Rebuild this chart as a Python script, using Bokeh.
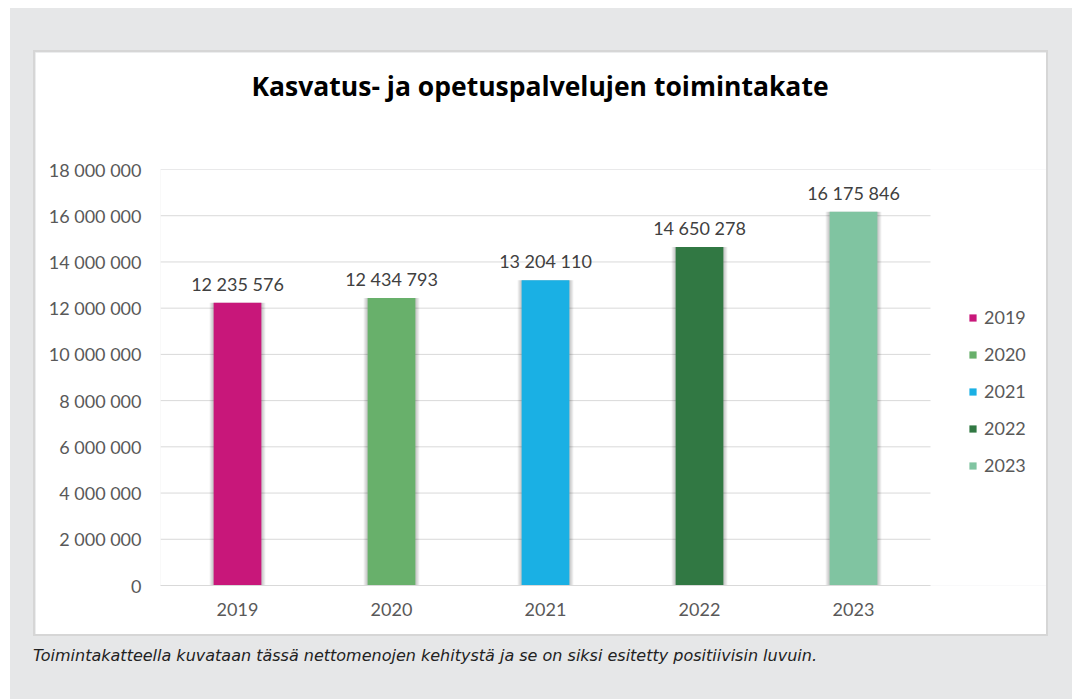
from bokeh.plotting import figure
from bokeh.models import ColumnDataSource, Range1d, FixedTicker, Legend, LegendItem, LabelSet, Div, Title
from bokeh.layouts import column
from bokeh.core.properties import value
from bokeh.embed import file_html
from bokeh.resources import INLINE

years = ["2019", "2020", "2021", "2022", "2023"]
values = [12235576, 12434793, 13204110, 14650278, 16175846]
colors = ["#c8177a", "#68b06b", "#1ab0e4", "#317843", "#80c4a1"]
y_ticks = [0, 2000000, 4000000, 6000000, 8000000, 10000000, 12000000, 14000000, 16000000, 18000000]
y_tick_labels = ["0", "2 000 000", "4 000 000", "6 000 000", "8 000 000", "10 000 000",
                 "12 000 000", "14 000 000", "16 000 000", "18 000 000"]
title_text = "Kasvatus- ja opetuspalvelujen toimintakate"
caption_text = "Toimintakatteella kuvataan tässä nettomenojen kehitystä ja se on siksi esitetty positiivisin luvuin."

n = len(years)
xpos = [i + 0.5 for i in range(n)]
labels = [f"{v:,}".replace(",", " ") for v in values]
src = ColumnDataSource(dict(x=xpos, top=values, color=colors, label=labels))

FIG_W, FIG_H = 1011, 582
LEFT, CAT_PX = 125, 770
frame_w = FIG_W - LEFT
x_end = n * frame_w / CAT_PX

p = figure(x_range=Range1d(0, x_end), y_range=Range1d(0, 18000000),
           width=FIG_W, height=FIG_H, output_backend="svg", toolbar_location=None,
           min_border_left=LEFT, min_border_right=0, min_border_top=117, min_border_bottom=49)
p.styles = {"outline": "2px solid #d6d6d6"}
p.background_fill_color = "white"
p.border_fill_color = "white"
p.outline_line_color = None

# spacer between title and plot area, then the title itself
spacer = Title(text=" ", text_font_size="1px", standoff=61, vertical_align="top")
p.add_layout(spacer, "above")
main_title = Title(text=title_text, align="left", offset=91, text_font="Open Sans",
                   text_font_size="26.5px", text_font_style="bold", text_color="#000000",
                   vertical_align="top", standoff=0)
p.add_layout(main_title, "above")

# gridlines limited to the category area
p.segment(x0=[0] * len(y_ticks[1:]), x1=[n] * len(y_ticks[1:]), y0=y_ticks[1:], y1=y_ticks[1:],
          line_color="#d9d9d9", line_width=1)

# soft shadow layers
for k in range(1, 5):
    p.vbar(x="x", top="top", width=0.31 + 0.013 * k, bottom=0, source=src,
           fill_color="#000000", fill_alpha=0.06, line_color=None)

bars = p.vbar(x="x", top="top", width=0.31, bottom=0, source=src, fill_color="color", line_color=None)

lbl = LabelSet(x="x", y="top", text="label", source=src, text_align="center", text_baseline="middle",
               y_offset=19, text_font=value("Lato"), text_font_size=value("18px"), text_color="#404040")
p.add_layout(lbl)

items = [LegendItem(label=y, renderers=[bars], index=i) for i, y in enumerate(years)]
legend = Legend(items=items, location=(808, 109), orientation="vertical")
legend.glyph_width = 9
legend.glyph_height = 9
legend.label_text_font = "Lato"
legend.label_text_font_size = "18px"
legend.label_text_color = "#595959"
legend.label_standoff = 7
legend.label_height = 20
legend.spacing = 15
legend.padding = 0
legend.margin = 0
legend.border_line_color = None
legend.background_fill_alpha = 0
p.add_layout(legend, "center")

p.yaxis.ticker = FixedTicker(ticks=y_ticks)
p.yaxis.major_label_overrides = {t: l for t, l in zip(y_ticks, y_tick_labels)}
p.yaxis.axis_line_color = None
p.yaxis.major_tick_line_color = None
p.yaxis.minor_tick_line_color = None
p.yaxis.major_tick_out = 0
p.yaxis.major_tick_in = 0
p.yaxis.major_label_standoff = 19
p.yaxis.major_label_text_font = "Lato"
p.yaxis.major_label_text_font_size = "18px"
p.yaxis.major_label_text_color = "#595959"

p.xaxis.ticker = FixedTicker(ticks=xpos)
p.xaxis.major_label_overrides = {x: y for x, y in zip(xpos, years)}
p.xaxis.bounds = (0, n)
p.xaxis.axis_line_color = "#d9d9d9"
p.xaxis.axis_line_width = 1
p.xaxis.major_tick_line_color = None
p.xaxis.minor_tick_line_color = None
p.xaxis.major_tick_out = 0
p.xaxis.major_tick_in = 0
p.xaxis.major_label_standoff = 17
p.xaxis.major_label_text_font = "Lato"
p.xaxis.major_label_text_font_size = "18px"
p.xaxis.major_label_text_color = "#595959"

p.xgrid.grid_line_color = None
p.ygrid.grid_line_color = None

p.margin = (44, 0, 0, 25)

caption = Div(text=caption_text, width=1000, height=24, margin=(11, 0, 0, 23),
              styles={"font-style": "italic", "font-family": "'DejaVu Sans'", "font-size": "16px",
                      "color": "#222222"})

layout = column(p, caption, width=1062, height=691, margin=(8, 0, 0, 10),
                styles={"background-color": "#e6e7e8"})

open("out.html", "w").write(file_html(layout, INLINE))
